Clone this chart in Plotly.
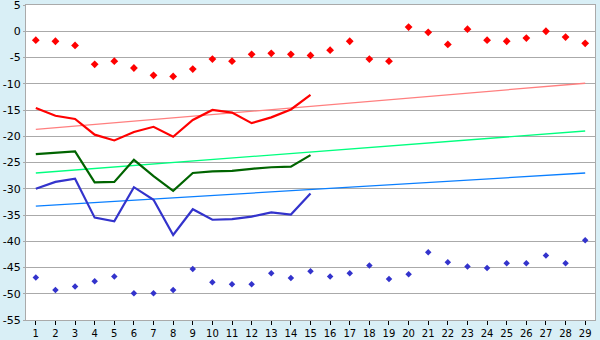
import plotly.graph_objects as go

days = list(range(1, 30))
line_days = list(range(1, 16))

red_points = [-1.7, -1.9, -2.7, -6.3, -5.7, -7.0, -8.4, -8.6, -7.2, -5.3,
              -5.7, -4.4, -4.2, -4.4, -4.6, -3.6, -1.9, -5.3, -5.7, 0.8,
              -0.2, -2.5, 0.4, -1.7, -1.9, -1.3, 0.0, -1.1, -2.3]
blue_points = [-46.9, -49.3, -48.6, -47.6, -46.7, -49.9, -49.9, -49.3, -45.3, -47.8,
               -48.2, -48.2, -46.1, -47.0, -45.7, -46.7, -46.1, -44.6, -47.2, -46.3,
               -42.1, -44.0, -44.8, -45.1, -44.2, -44.2, -42.7, -44.2, -39.8]

red_line = [-14.6, -16.1, -16.7, -19.7, -20.8, -19.2, -18.2, -20.1, -16.9, -15.0,
            -15.5, -17.5, -16.4, -14.9, -12.1]
green_line = [-23.4, -23.1, -22.9, -28.8, -28.7, -24.5, -27.6, -30.4, -27.0, -26.7,
              -26.6, -26.2, -25.9, -25.8, -23.6]
blue_line = [-30.0, -28.7, -28.1, -35.5, -36.2, -29.7, -32.1, -38.8, -33.9, -35.9,
             -35.8, -35.3, -34.5, -34.9, -30.9]

trend_days = [1, 29]
red_trend = [-18.7, -9.9]
green_trend = [-27.0, -19.0]
blue_trend = [-33.3, -27.0]

y_ticks = list(range(-55, 6, 5))

fig = go.Figure()
fig.add_trace(go.Scatter(x=trend_days, y=red_trend, mode="lines",
                         line=dict(color="#FF7F7F", width=1.3)))
fig.add_trace(go.Scatter(x=trend_days, y=green_trend, mode="lines",
                         line=dict(color="#00FF7F", width=1.3)))
fig.add_trace(go.Scatter(x=trend_days, y=blue_trend, mode="lines",
                         line=dict(color="#0A7FFF", width=1.3)))
fig.add_trace(go.Scatter(x=line_days, y=red_line, mode="lines",
                         line=dict(color="#FF0000", width=2.2)))
fig.add_trace(go.Scatter(x=line_days, y=green_line, mode="lines",
                         line=dict(color="#006400", width=2.2)))
fig.add_trace(go.Scatter(x=line_days, y=blue_line, mode="lines",
                         line=dict(color="#3333CC", width=2.2)))
fig.add_trace(go.Scatter(x=days, y=red_points, mode="markers",
                         marker=dict(symbol="diamond", size=6, color="#FF0000")))
fig.add_trace(go.Scatter(x=days, y=blue_points, mode="markers",
                         marker=dict(symbol="diamond", size=5, color="#3333CC")))

fig.update_layout(
    width=600, height=340,
    margin=dict(l=26, r=5, t=5, b=20),
    paper_bgcolor="#D9EFF6",
    plot_bgcolor="#FFFFFF",
    showlegend=False,
    font=dict(family="DejaVu Sans", size=11, color="#000000"),
)
fig.update_xaxes(
    range=[0.5, 29.5], tickmode="array", tickvals=days,
    ticktext=[str(d) for d in days],
    showgrid=False, zeroline=False, automargin=False,
    showline=True, linecolor="#AAAAAA", linewidth=1, mirror=True,
    ticks="outside", ticklen=4, tickcolor="#000000", tickwidth=1,
    tickfont=dict(size=10),
    ticklabeloverflow="allow",
)
fig.update_yaxes(
    range=[-55, 5.001], tickmode="array", tickvals=y_ticks,
    ticktext=[str(v) for v in y_ticks],
    showgrid=True, gridcolor="#AAAAAA", gridwidth=1, zeroline=False,
    automargin=False,
    showline=True, linecolor="#AAAAAA", linewidth=1, mirror=True,
    ticks="outside", ticklen=2, tickcolor="#AAAAAA",
    ticklabeloverflow="allow",
)
fig.write_html("out.html")
